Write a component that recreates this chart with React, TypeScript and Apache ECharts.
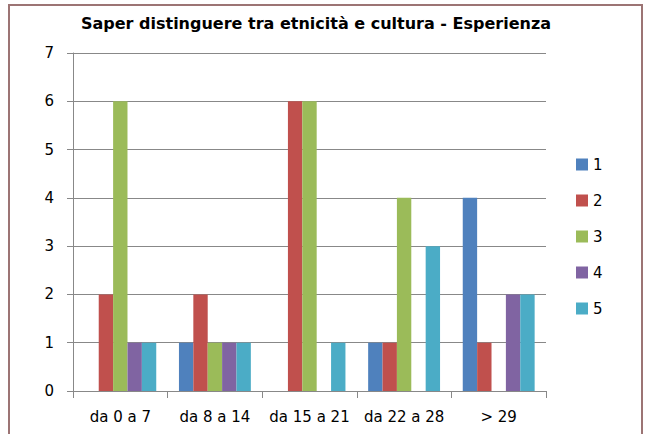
import React, { useEffect, useRef } from "react";
import * as echarts from "echarts";

const title = "Saper distinguere tra etnicità e cultura - Esperienza";
const categories = ["da 0 a 7", "da 8 a 14", "da 15 a 21", "da 22 a 28", "> 29"];
const seriesNames = ["1", "2", "3", "4", "5"];
const s1 = [0, 1, 0, 1, 4];
const s2 = [2, 2, 6, 1, 1];
const s3 = [6, 1, 6, 4, 0];
const s4 = [1, 1, 0, 0, 2];
const s5 = [1, 1, 1, 3, 2];
const seriesValues = [s1, s2, s3, s4, s5];
const colors = ["#4F81BD", "#C0504D", "#9BBB59", "#8064A2", "#4BACC6"];

const FONT = "'DejaVu Sans', sans-serif";

export default function App() {
  const ref = useRef<HTMLDivElement>(null);
  useEffect(() => {
    if (!ref.current) return;
    const chart = echarts.init(ref.current, null, { renderer: "svg" });
    chart.setOption({
      animation: false,
      backgroundColor: "#ffffff",
      color: colors,
      title: {
        text: title,
        left: 311,
        textAlign: "center",
        top: 10,
        textStyle: { fontFamily: FONT, fontSize: 16, fontWeight: "bold", color: "#000" },
      },
      grid: { left: 73, right: 99, top: 53, bottom: 43 },
      legend: {
        orient: "vertical",
        left: 571,
        top: 152,
        itemWidth: 12,
        itemHeight: 12,
        itemGap: 21,
        icon: "rect",
        textStyle: { fontFamily: FONT, fontSize: 15, color: "#000" },
        data: seriesNames,
      },
      xAxis: {
        type: "category",
        data: categories,
        axisLine: { lineStyle: { color: "#888", width: 1 } },
        axisTick: { show: true, length: 7, lineStyle: { color: "#888" } },
        axisLabel: { fontFamily: FONT, fontSize: 15, color: "#000", margin: 18, interval: 0, hideOverlap: false },
      },
      yAxis: {
        type: "value",
        min: 0,
        max: 7,
        interval: 1,
        axisLine: { show: true, lineStyle: { color: "#888", width: 1 } },
        axisTick: { show: true, length: 6, lineStyle: { color: "#888" } },
        axisLabel: { fontFamily: FONT, fontSize: 15, color: "#000", margin: 19 },
        splitLine: { show: true, lineStyle: { color: "#888", width: 1 } },
      },
      graphic: [
        {
          type: "rect",
          shape: { x: 9, y: 5, width: 633, height: 440 },
          style: { fill: "none", stroke: "#9C7474", lineWidth: 2 },
          silent: true,
        },
      ],
      series: seriesValues.map((vals, i) => ({
        name: seriesNames[i],
        type: "bar",
        data: vals,
        barGap: "0%",
        barCategoryGap: "24%",
        itemStyle: { color: colors[i] },
      })),
    });
    return () => chart.dispose();
  }, []);
  return (
    <div
      ref={ref}
      style={{ position: "absolute", left: 0, top: 0, width: 645, height: 434 }}
    />
  );
}
